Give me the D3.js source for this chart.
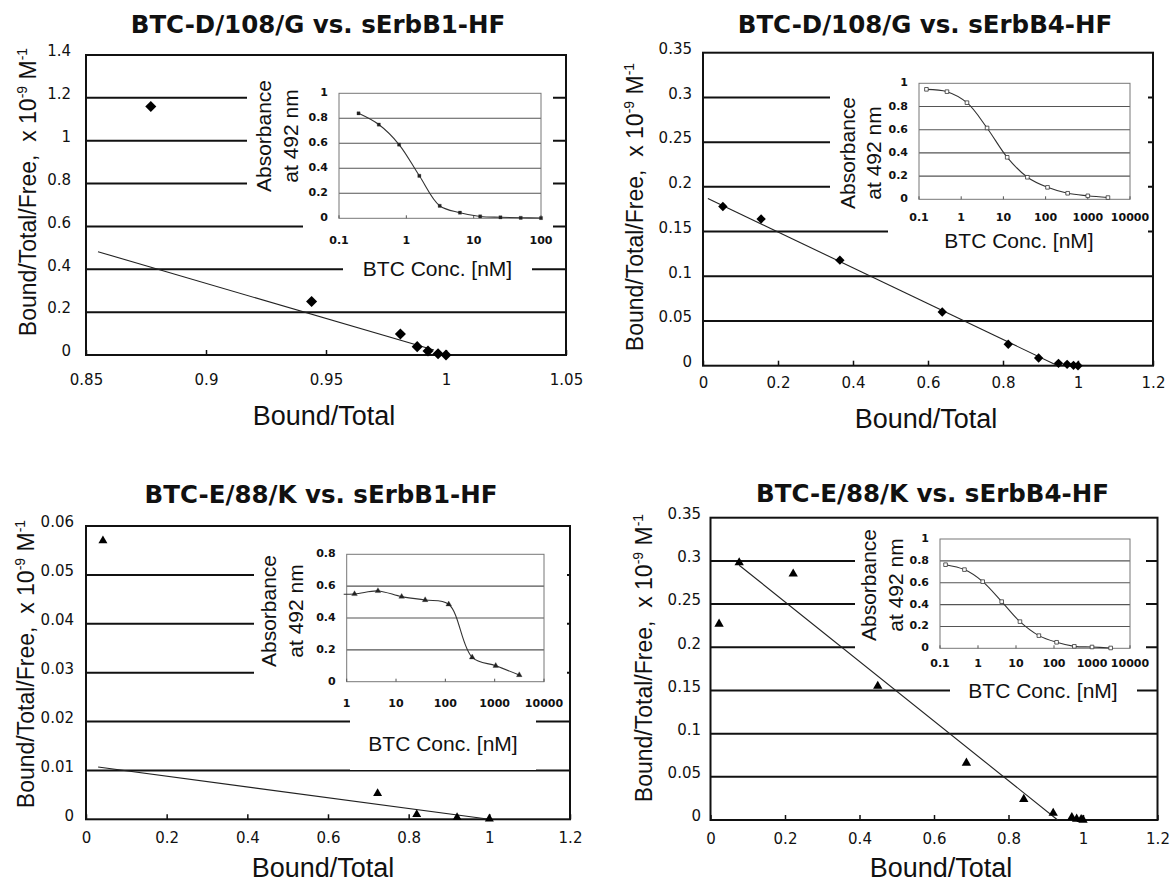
<!DOCTYPE html>
<html>
<head>
<meta charset="utf-8">
<script src="https://cdn.jsdelivr.net/npm/d3@7"></script>
<style>
  body { margin: 0; background: #fff; }
  svg text { fill: #111; }
</style>
</head>
<body>
<svg id="chart" width="1170" height="885"></svg>
<script>
// ---- data ----
// panel 1: BTC-D/108/G vs. sErbB1-HF (Scatchard)
const p1BoundTotal = [0.877, 0.944, 0.981, 0.988, 0.9925, 0.9967, 1.0];
const p1BTF        = [1.16, 0.25, 0.098, 0.039, 0.019, 0.006, 0.0];
const p1FitX = [0.855, 0.995], p1FitY = [0.482, 0.023];
const p1XTicks = [0.85, 0.9, 0.95, 1, 1.05];
const p1YTicks = [0, 0.2, 0.4, 0.6, 0.8, 1, 1.2, 1.4];
const p1Conc = [0.195, 0.39, 0.78, 1.56, 3.13, 6.25, 12.5, 25, 50, 100];
const p1Abs  = [0.84, 0.75, 0.59, 0.34, 0.10, 0.045, 0.015, 0.008, 0.004, 0.002];
const p1ConcTicks = [0.1, 1, 10, 100];

// panel 2: BTC-D/108/G vs. sErbB4-HF
const p2BoundTotal = [0.053, 0.155, 0.365, 0.638, 0.814, 0.895, 0.948, 0.971, 0.988, 1.0];
const p2BTF        = [0.178, 0.164, 0.118, 0.060, 0.024, 0.0086, 0.0026, 0.0015, 0.0004, 0.0];
const p2FitX = [0.013, 0.946], p2FitY = [0.187, 0.0];
const p2XTicks = [0, 0.2, 0.4, 0.6, 0.8, 1, 1.2];
const p2YTicks = [0, 0.05, 0.1, 0.15, 0.2, 0.25, 0.3, 0.35];
const p2Conc = [0.15, 0.46, 1.37, 4.1, 12.3, 37, 111, 333, 1000, 3000];
const p2Abs  = [0.948, 0.928, 0.833, 0.615, 0.362, 0.19, 0.103, 0.052, 0.030, 0.015];
const p2ConcTicks = [0.1, 1, 10, 100, 1000, 10000];

// panel 3: BTC-E/88/K vs. sErbB1-HF
const p3BoundTotal = [0.042, 0.723, 0.82, 0.92, 1.0];
const p3BTF        = [0.057, 0.0053, 0.001, 0.0004, 0.0001];
const p3FitX = [0.03, 1.0], p3FitY = [0.0107, 0.0];
const p3XTicks = [0, 0.2, 0.4, 0.6, 0.8, 1, 1.2];
const p3YTicks = [0, 0.01, 0.02, 0.03, 0.04, 0.05, 0.06];
const p3Conc = [0.48, 1.44, 4.3, 13, 39, 117, 350, 1050, 3150];
const p3Abs  = [0.55, 0.551, 0.57, 0.534, 0.513, 0.486, 0.153, 0.10, 0.042];
const p3ConcTicks = [1, 10, 100, 1000, 10000];

// panel 4: BTC-E/88/K vs. sErbB4-HF
const p4BoundTotal = [0.023, 0.077, 0.222, 0.449, 0.687, 0.841, 0.92, 0.97, 0.983, 0.995, 1.0];
const p4BTF        = [0.227, 0.298, 0.285, 0.155, 0.066, 0.024, 0.008, 0.003, 0.0012, 0.0008, 0.0];
const p4FitX = [0.077, 0.932], p4FitY = [0.295, 0.0];
const p4XTicks = [0, 0.2, 0.4, 0.6, 0.8, 1, 1.2];
const p4YTicks = [0, 0.05, 0.1, 0.15, 0.2, 0.25, 0.3, 0.35];
const p4Conc = [0.14, 0.44, 1.33, 4.2, 12.7, 40, 117, 343, 1000, 3100];
const p4Abs  = [0.765, 0.72, 0.61, 0.427, 0.244, 0.116, 0.055, 0.018, 0.012, 0.003];
const p4ConcTicks = [0.1, 1, 10, 100, 1000, 10000];

const absTicks  = [0, 0.2, 0.4, 0.6, 0.8, 1];
const absTicks3 = [0, 0.2, 0.4, 0.6, 0.8];

const titles = ["BTC-D/108/G vs. sErbB1-HF", "BTC-D/108/G vs. sErbB4-HF",
                "BTC-E/88/K vs. sErbB1-HF", "BTC-E/88/K vs. sErbB4-HF"];

// ---- layout (pixels) ----
const panels = [
  { title: titles[0], xs: p1BoundTotal, ys: p1BTF, fitX: p1FitX, fitY: p1FitY,
    xTicks: p1XTicks, yTicks: p1YTicks, box: [86, 566, 55, 355],
    titlePos: [318, 33], xLab: [324, 425], yLab: [36, 192], xPad: 19.5, yPad: 15,
    marker: "diamond", mSize: 61,
    inset: { conc: p1Conc, abs: p1Abs, xTicks: p1ConcTicks, yTicks: absTicks,
      xRange: [339, 541], yRange: [218.3, 93.3],
      white: [[247, 80, 306, 130], [303, 200, 250, 50], [343, 256, 189, 27]],
      tickDy: 22, yLabX: [271, 298], yLabY: 136, cLab: [437.5, 275.5], marker: "fsquare" } },
  { title: titles[1], xs: p2BoundTotal, ys: p2BTF, fitX: p2FitX, fitY: p2FitY,
    xTicks: p2XTicks, yTicks: p2YTicks, box: [703, 1153, 52.7, 365.7],
    titlePos: [925, 33], xLab: [926, 428], yLab: [643, 207], xPad: 12, yPad: 11,
    marker: "diamond", mSize: 44,
    inset: { conc: p2Conc, abs: p2Abs, xTicks: p2ConcTicks, yTicks: absTicks,
      xRange: [919, 1130], yRange: [199.3, 83.3],
      white: [[830, 68, 318, 147], [888, 200, 260, 62]],
      tickDy: 17.4, yLabX: [855, 881], yLabY: 153, cLab: [1019, 247.5], marker: "hsquare" } },
  { title: titles[2], xs: p3BoundTotal, ys: p3BTF, fitX: p3FitX, fitY: p3FitY,
    xTicks: p3XTicks, yTicks: p3YTicks, box: [86, 570, 526, 819.3],
    titlePos: [321, 503], xLab: [323, 877], yLab: [34, 664], xPad: 13.5, yPad: 12,
    marker: "triangle", mSize: 35,
    inset: { conc: p3Conc, abs: p3Abs, xTicks: p3ConcTicks, yTicks: absTicks3,
      xRange: [346.7, 544], yRange: [681.7, 554.3],
      white: [[254, 535, 313, 165], [350, 712, 186, 58]],
      tickDy: 21.6, yLabX: [276, 302.5], yLabY: 611, cLab: [443, 750.8], marker: "ftriangle" } },
  { title: titles[3], xs: p4BoundTotal, ys: p4BTF, fitX: p4FitX, fitY: p4FitY,
    xTicks: p4XTicks, yTicks: p4YTicks, box: [710.5, 1157.5, 517.7, 820],
    titlePos: [932.5, 501.7], xLab: [941, 877], yLab: [652, 658], xPad: 13, yPad: 9.5,
    marker: "triangle", mSize: 38,
    inset: { conc: p4Conc, abs: p4Abs, xTicks: p4ConcTicks, yTicks: absTicks,
      xRange: [940, 1130], yRange: [648.3, 539],
      white: [[855, 525, 291, 150], [950, 677, 187, 28]],
      tickDy: 15, yLabX: [876, 902.5], yLabY: 585, cLab: [1043, 698], marker: "hsquare" } }
];

const svg = d3.select("#chart");
const defs = svg.append("defs");
const labelFont = "'Liberation Sans', Arial, sans-serif";
const tickFont = "'DejaVu Sans', sans-serif";

function symbolPath(kind, size) {
  if (kind === "triangle" || kind === "ftriangle") return d3.symbol(d3.symbolTriangle, size)();
  return d3.symbol(d3.symbolSquare, size)();
}

function drawInset(g, ins, idx) {
  // white chart area hides the main grid behind the inset
  g.selectAll("rect.white").data(ins.white).enter().append("rect")
    .attr("x", d => d[0]).attr("y", d => d[1]).attr("width", d => d[2]).attr("height", d => d[3])
    .attr("fill", "#fff");

  const x = d3.scaleLog().domain([ins.xTicks[0], ins.xTicks[ins.xTicks.length - 1]]).range(ins.xRange);
  const yMax = ins.yTicks[ins.yTicks.length - 1];
  const y = d3.scaleLinear().domain([0, yMax]).range(ins.yRange);

  g.selectAll("line.igrid").data(ins.yTicks.slice(1, -1)).enter().append("line")
    .attr("x1", ins.xRange[0]).attr("x2", ins.xRange[1])
    .attr("y1", d => y(d)).attr("y2", d => y(d))
    .attr("stroke", "#555").attr("stroke-width", 1.1);

  g.append("rect")
    .attr("x", ins.xRange[0]).attr("y", ins.yRange[1])
    .attr("width", ins.xRange[1] - ins.xRange[0]).attr("height", ins.yRange[0] - ins.yRange[1])
    .attr("fill", "none").attr("stroke", "#777").attr("stroke-width", 1);

  // x ticks (log, decades)
  g.selectAll("line.ixt").data(ins.xTicks).enter().append("line")
    .attr("x1", d => x(d)).attr("x2", d => x(d))
    .attr("y1", ins.yRange[0]).attr("y2", ins.yRange[0] - 3)
    .attr("stroke", "#555");
  g.selectAll("text.ixt").data(ins.xTicks).enter().append("text")
    .attr("x", d => x(d)).attr("y", ins.yRange[0] + ins.tickDy + 4)
    .attr("text-anchor", "middle")
    .style("font", "bold 11px " + tickFont)
    .text(d => String(d));
  g.selectAll("text.iyt").data(ins.yTicks).enter().append("text")
    .attr("x", ins.xRange[0] - 11).attr("y", d => y(d) + 3)
    .attr("text-anchor", "end")
    .style("font", "bold 11px " + tickFont)
    .text(d => String(d));

  // curve + markers, clipped to the plot area
  const clipId = "clip" + idx;
  defs.append("clipPath").attr("id", clipId).append("rect")
    .attr("x", ins.xRange[0] - 3).attr("y", ins.yRange[1])
    .attr("width", ins.xRange[1] - ins.xRange[0] + 6).attr("height", ins.yRange[0] - ins.yRange[1] + 3);
  const pts = ins.conc.map((c, i) => [c, ins.abs[i]]);
  const cg = g.append("g").attr("clip-path", "url(#" + clipId + ")");
  cg.append("path")
    .attr("d", d3.line().x(d => x(d[0])).y(d => y(d[1])).curve(d3.curveCatmullRom.alpha(0.5))(pts))
    .attr("fill", "none").attr("stroke", "#333").attr("stroke-width", 1.1);
  const hollow = ins.marker === "hsquare";
  cg.selectAll("path.im").data(pts).enter().append("path")
    .attr("d", symbolPath(ins.marker, hollow ? 13 : (ins.marker === "ftriangle" ? 14 : 10)))
    .attr("transform", d => "translate(" + x(d[0]) + "," + y(d[1]) + ")")
    .attr("fill", hollow ? "#fff" : "#222")
    .attr("stroke", "#333").attr("stroke-width", hollow ? 0.8 : 0.3);

  // axis titles
  g.append("text")
    .attr("x", ins.cLab[0]).attr("y", ins.cLab[1])
    .attr("text-anchor", "middle")
    .style("font", "21px " + labelFont)
    .text("BTC Conc. [nM]");
  ["Absorbance", "at 492 nm"].forEach((t, i) => {
    g.append("text")
      .attr("transform", "translate(" + ins.yLabX[i] + "," + ins.yLabY + ") rotate(-90)")
      .attr("text-anchor", "middle")
      .style("font", "21px " + labelFont)
      .text(t);
  });
}

panels.forEach((p, idx) => {
  const g = svg.append("g");
  const x = d3.scaleLinear().domain([p.xTicks[0], p.xTicks[p.xTicks.length - 1]]).range([p.box[0], p.box[1]]);
  const y = d3.scaleLinear().domain([p.yTicks[0], p.yTicks[p.yTicks.length - 1]]).range([p.box[3], p.box[2]]);

  // main horizontal gridlines
  g.selectAll("line.grid").data(p.yTicks.slice(1, -1)).enter().append("line")
    .attr("x1", p.box[0]).attr("x2", p.box[1])
    .attr("y1", d => y(d)).attr("y2", d => y(d))
    .attr("stroke", "#111").attr("stroke-width", 2);

  drawInset(g, p.inset, idx);

  // frame
  g.append("rect")
    .attr("x", p.box[0]).attr("y", p.box[2])
    .attr("width", p.box[1] - p.box[0]).attr("height", p.box[3] - p.box[2])
    .attr("fill", "none").attr("stroke", "#111").attr("stroke-width", 2);

  // axes
  const xAxis = g.append("g").attr("transform", "translate(0," + p.box[3] + ")")
    .call(d3.axisBottom(x).tickValues(p.xTicks).tickSize(-5).tickPadding(p.xPad).tickFormat(d => String(d)));
  xAxis.select(".domain").remove();
  xAxis.selectAll(".tick line").attr("stroke", "#111").attr("stroke-width", 1.5);
  xAxis.selectAll("text").style("font", "15px " + tickFont).attr("fill", "#111");

  const yAxis = g.append("g").attr("transform", "translate(" + p.box[0] + ",0)")
    .call(d3.axisLeft(y).tickValues(p.yTicks).tickSize(0).tickPadding(p.yPad).tickFormat(d => String(d)));
  yAxis.select(".domain").remove();
  yAxis.selectAll("text").style("font", "15px " + tickFont).attr("fill", "#111").attr("dy", "0.05em");

  // fit line
  g.append("line")
    .attr("x1", x(p.fitX[0])).attr("y1", y(p.fitY[0]))
    .attr("x2", x(p.fitX[1])).attr("y2", y(p.fitY[1]))
    .attr("stroke", "#222").attr("stroke-width", 1.1);

  // data markers
  const pts = p.xs.map((v, i) => [v, p.ys[i]]);
  g.selectAll("path.m").data(pts).enter().append("path")
    .attr("d", symbolPath(p.marker, p.mSize))
    .attr("transform", d => "translate(" + x(d[0]) + "," + y(d[1]) + ")" + (p.marker === "diamond" ? " rotate(45)" : ""))
    .attr("fill", "#000");

  // titles and labels
  g.append("text")
    .attr("x", p.titlePos[0]).attr("y", p.titlePos[1])
    .attr("text-anchor", "middle")
    .style("font", "bold 24.5px " + tickFont)
    .text(p.title);
  g.append("text")
    .attr("x", p.xLab[0]).attr("y", p.xLab[1])
    .attr("text-anchor", "middle")
    .style("font", "27px " + labelFont)
    .text("Bound/Total");
  const yl = g.append("text")
    .attr("transform", "translate(" + p.yLab[0] + "," + p.yLab[1] + ") rotate(-90)")
    .attr("text-anchor", "middle")
    .style("font", "23px " + labelFont);
  yl.append("tspan").text("Bound/Total/Free,\u00a0\u00a0x 10");
  yl.append("tspan").attr("dy", -9).style("font-size", "14px").text("-9");
  yl.append("tspan").attr("dy", 9).text(" M");
  yl.append("tspan").attr("dy", -9).style("font-size", "14px").text("-1");
});
</script>
</body>
</html>
